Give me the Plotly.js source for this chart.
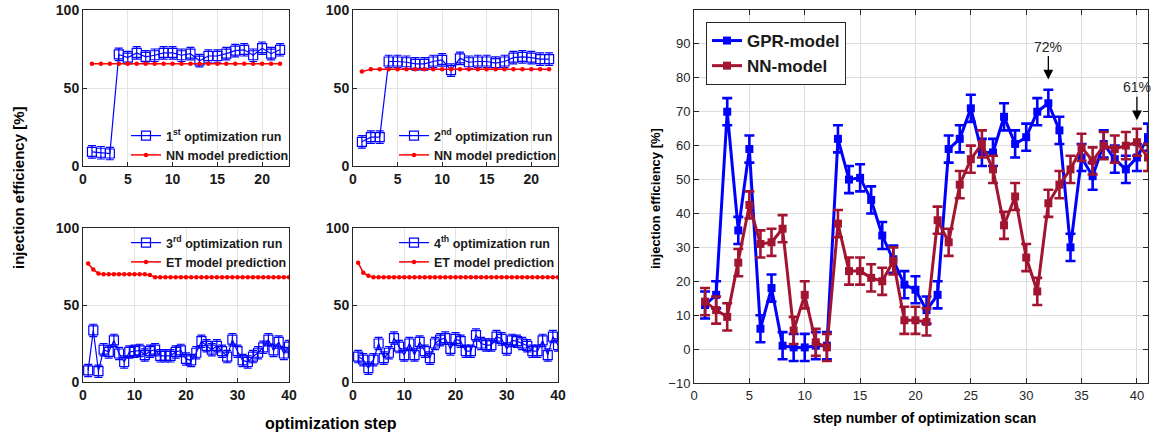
<!DOCTYPE html>
<html><head><meta charset="utf-8">
<script src="https://cdn.plot.ly/plotly-3.0.1.min.js"></script>
<style>html,body{margin:0;padding:0;background:#fff}</style>
</head><body><div id="chart" style="width:1153px;height:434px"></div>
<script>
// ---------- data ----------
const steps22 = [1,2,3,4,5,6,7,8,9,10,11,12,13,14,15,16,17,18,19,20,21,22];
const steps40 = [1,2,3,4,5,6,7,8,9,10,11,12,13,14,15,16,17,18,19,20,21,22,23,24,25,26,27,28,29,30,31,32,33,34,35,36,37,38,39,40];
const steps41 = [1,2,3,4,5,6,7,8,9,10,11,12,13,14,15,16,17,18,19,20,21,22,23,24,25,26,27,28,29,30,31,32,33,34,35,36,37,38,39,40,41];

const run1 = [9,8.5,8,71.5,69.5,72.5,70,71,72.5,72.5,71,72,67.5,70.5,70.5,72,74,74.5,71,75.5,72,74.5];
const nnPred1 = [65.5,65.5,65.5,65.5,65.5,65.5,65.5,65.5,65.5,65.5,65.5,65.5,65.5,65.5,65.5,65.5,65.5,65.5,65.5,65.5,65.5,65.5];
const run2 = [15.5,18.5,18.5,67,67,66.5,65.5,65.5,67,68,61.5,69,66.5,67,67,66,67,69.5,70,69.5,68.5,68.5];
const nnPred2 = [60.5,62,62,62,62,62,62,62,62,62,62,62,62,62,62,62,62,62,62,62,62,62];
const run3 = [7.5,33.5,7,21,19.5,27,18.5,13,19.5,20,20.5,17.5,20,21,17,17,17,19.5,20.5,15,14,19,26.5,23.5,21,23.5,20,16.5,27.5,20,14,13,16.5,19,22.5,27.5,20.5,26,18.5,23];
const etPred3 = [77,73,70.5,70,70,70,70,70,70,70,70,70,69.5,68,68,68,68,68,68,68,68,68,68,68,68,68,68,68,68,68,68,68,68,68,68,68,68,68,68,68];
const run4 = [16.5,14.5,9,14.5,25,15.5,19,28.5,23,17.5,25,17.5,26,20,15.5,25,27.5,28.5,21.5,28,26.5,20,20,30.5,25,24,24,29.5,28,21.5,27,26.5,25,23.5,20,20,27,17.5,29.5,24];
const etPred4 = [77.5,71,69,68,68,68,68,68,68,68,68,68,68,68,68,68,68,68,68,68,68,68,68,68,68,68,68,68,68,68,68,68,68,68,68,68,68,68,68,68];
const runErr = 4;

const gprModel = [13,16,70,35,59,6,18,1,0.5,0.5,1,1,62,50,50.5,44,33.5,26.5,19,17.5,11.5,16,59,62,71,58,58,68.5,60.5,62.5,70,72.5,64.5,30,56.5,51,60.5,56,53,56.5,62.5];
const nnModel = [14,11.5,9.5,25.5,42.5,31,31.5,35.5,5.5,16,2,0.5,37,23,23,21,20,26,8.5,8.5,8,38,31.5,48.5,56,60.5,53,36.5,45,27,17,43,48.5,53,59.5,55.5,60,59,60,61,56.5];
const modelErr = 4;

const runNames = ['1<sup>st</sup> optimization run','2<sup>nd</sup> optimization run','3<sup>rd</sup> optimization run','4<sup>th</sup> optimization run'];
const predNames = ['NN model prediction','NN model prediction','ET model prediction','ET model prediction'];
const modelNames = ['GPR-model','NN-model'];

// ---------- styles ----------
const FONT = 'Liberation Sans, Arial, sans-serif';
const BLUE = '#0000ff', RED = '#ff0000', DARKRED = '#a2142f', AX = '#262626';
const W = 1153, H = 434;

function runTrace(x, y, name, i) {
  return {x, y, name, type:'scatter', mode:'lines+markers',
    xaxis: i===1?'x':'x'+i, yaxis: i===1?'y':'y'+i, legend: i===1?'legend':'legend'+i,
    line:{color:BLUE, width:1.2},
    marker:{symbol:'square-open', size:9, color:BLUE, line:{width:1.2, color:BLUE}},
    error_y:{type:'constant', value:runErr, color:BLUE, thickness:1.2, width:4}};
}
function predTrace(x, y, name, i) {
  return {x, y, name, type:'scatter', mode:'lines+markers',
    xaxis: i===1?'x':'x'+i, yaxis: i===1?'y':'y'+i, legend: i===1?'legend':'legend'+i,
    line:{color:RED, width:1.5},
    marker:{symbol:'circle', size:4.5, color:RED}};
}
function modelTrace(y, name, color) {
  return {x:steps41, y, name, type:'scatter', mode:'lines+markers',
    xaxis:'x5', yaxis:'y5', legend:'legend5',
    line:{color, width:3},
    marker:{symbol:'square', size:8, color},
    error_y:{type:'constant', value:modelErr, color, thickness:2.6, width:5}};
}

const data = [
  runTrace(steps22, run1, runNames[0], 1), predTrace(steps22, nnPred1, predNames[0], 1),
  runTrace(steps22, run2, runNames[1], 2), predTrace(steps22, nnPred2, predNames[1], 2),
  runTrace(steps40, run3, runNames[2], 3), predTrace(steps40, etPred3, predNames[2], 3),
  runTrace(steps40, run4, runNames[3], 4), predTrace(steps40, etPred4, predNames[3], 4),
  modelTrace(gprModel, modelNames[0], BLUE), modelTrace(nnModel, modelNames[1], DARKRED)
];

function ax(domainPx, range, tickvals, anchor, horiz, extra) {
  const d = horiz ? [domainPx[0]/W, domainPx[1]/W] : [1-domainPx[1]/H, 1-domainPx[0]/H];
  return Object.assign({domain:d, range, tickvals, anchor, showline:true, linecolor:AX, linewidth:1,
    mirror:true, ticks:'inside', ticklen:4, tickcolor:AX, showgrid:true, gridcolor:'#e3e3e3',
    zeroline:false, fixedrange:true,
    tickfont:{family:FONT, size:14, color:'#1a1a1a', weight:'bold'}}, extra||{});
}

const leftX = [83,289], rightX2 = [353,558], topY = [10,166], botY = [228,382];
const legFont = {family:FONT, size:12.5, color:'#1a1a1a', weight:'bold'};
function smallLeg(xpx, ypx) {
  return {x:xpx/W, y:1-ypx/H, xanchor:'left', yanchor:'top', bgcolor:'rgba(0,0,0,0)',
    borderwidth:0, font:legFont, itemwidth:30, tracegroupgap:0};
}

const layout = {
  width:W, height:H, margin:{l:0,r:0,t:0,b:0}, paper_bgcolor:'#fff', plot_bgcolor:'#fff',
  font:{family:FONT},
  xaxis: ax(leftX,[0,23],[0,5,10,15,20],'y',true),
  yaxis: ax(topY,[0,100],[0,50,100],'x',false),
  xaxis2: ax(rightX2,[0,23],[0,5,10,15,20],'y2',true),
  yaxis2: ax(topY,[0,100],[0,50,100],'x2',false),
  xaxis3: ax(leftX,[0,40],[0,10,20,30,40],'y3',true),
  yaxis3: ax(botY,[0,100],[0,50,100],'x3',false),
  xaxis4: ax(rightX2,[0,40],[0,10,20,30,40],'y4',true),
  yaxis4: ax(botY,[0,100],[0,50,100],'x4',false),
  xaxis5: ax([694,1148],[0,41],[0,5,10,15,20,25,30,35,40],'y5',true,
    {mirror:'ticks', ticklen:5, tickfont:{family:FONT, size:13, color:'#262626'}, gridcolor:'#dcdcdc'}),
  yaxis5: ax([10,383],[-10,100],[-10,0,10,20,30,40,50,60,70,80,90],'x5',false,
    {mirror:'ticks', ticklen:5, tickfont:{family:FONT, size:13, color:'#262626'}, gridcolor:'#dcdcdc'}),
  legend: smallLeg(126,121),
  legend2: smallLeg(394,121),
  legend3: smallLeg(126,228),
  legend4: smallLeg(394,228),
  legend5: {x:706/W, y:1-22/H, xanchor:'left', yanchor:'top', bgcolor:'#fff',
    bordercolor:AX, borderwidth:1, font:{family:FONT, size:17, color:'#1a1a1a', weight:'bold'}},
  showlegend:true,
  annotations:[
    {xref:'x5', yref:'y5', x:32, y:79.5, text:'72%', showarrow:true, arrowhead:2, arrowsize:1.5,
      arrowwidth:1.3, arrowcolor:'#000', ax:0, ay:-33, font:{family:FONT, size:14, color:'#262626'}},
    {xref:'x5', yref:'y5', x:40, y:67.5, text:'61%', showarrow:true, arrowhead:2, arrowsize:1.5,
      arrowwidth:1.3, arrowcolor:'#000', ax:0, ay:-33, font:{family:FONT, size:14, color:'#262626'}},
    {xref:'paper', yref:'paper', x:18/W, y:1-188/H, xanchor:'center', yanchor:'middle',
      text:'injection efficiency [%]', textangle:-90,
      showarrow:false, font:{family:FONT, size:15, color:'#000', weight:'bold'}},
    {xref:'paper', yref:'paper', x:331/W, y:1-423/H, xanchor:'center', yanchor:'middle',
      text:'optimization step', showarrow:false,
      font:{family:FONT, size:16, color:'#000', weight:'bold'}},
    {xref:'paper', yref:'paper', x:655/W, y:1-199/H, xanchor:'center', yanchor:'middle',
      text:'injection efficiency [%]', textangle:-90,
      showarrow:false, font:{family:FONT, size:13, color:'#000', weight:'bold'}},
    {xref:'paper', yref:'paper', x:924/W, y:1-418/H, xanchor:'center', yanchor:'middle',
      text:'step number of optimization scan', showarrow:false,
      font:{family:FONT, size:14, color:'#000', weight:'bold'}}
  ]
};

Plotly.newPlot('chart', data, layout, {displayModeBar:false, staticPlot:true});
</script></body></html>
